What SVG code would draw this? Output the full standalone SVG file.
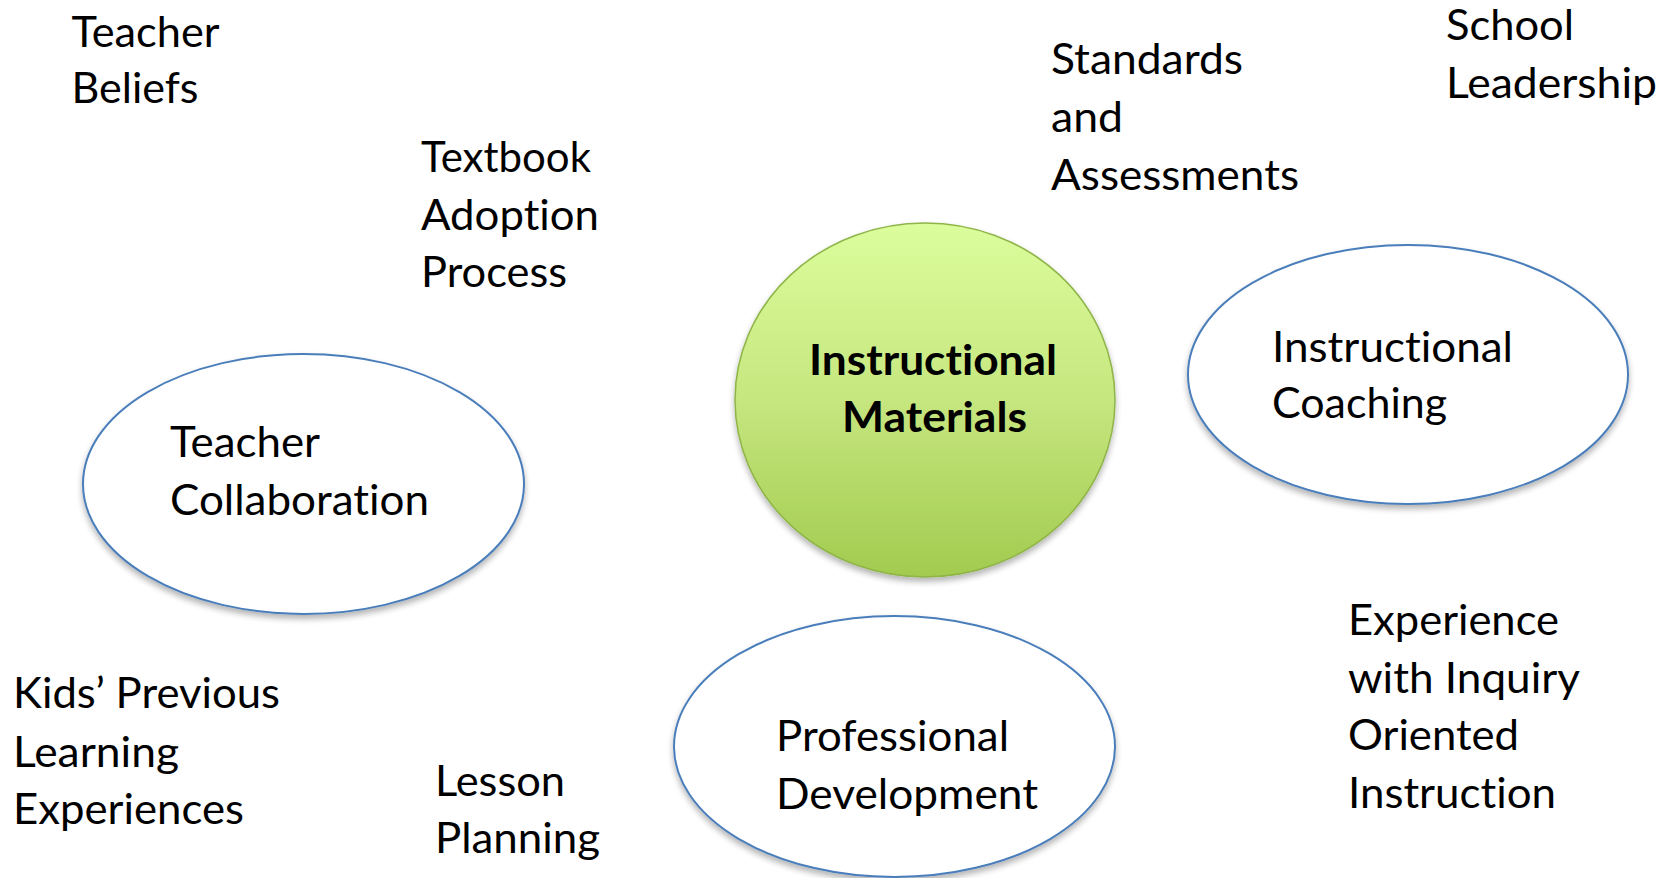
<svg xmlns="http://www.w3.org/2000/svg" width="1673" height="878" viewBox="0 0 1673 878">
<style>
text{font-family:Lato,"Open Sans","Liberation Sans",sans-serif;font-size:42px;fill:#000;font-variant-ligatures:none;font-feature-settings:"liga" 0,"clig" 0}
.b{font-weight:bold}
.ell{fill:#fff;stroke:#4a7ebb;stroke-width:2}
</style>
<defs>
<linearGradient id="g" x1="0" y1="0" x2="0" y2="1">
<stop offset="0" stop-color="#dcfd9c"/>
<stop offset="0.5" stop-color="#c6e67f"/>
<stop offset="1" stop-color="#a2cb4f"/>
</linearGradient>
<filter id="sh" x="-10%" y="-10%" width="120%" height="125%">
<feGaussianBlur in="SourceAlpha" stdDeviation="3"/>
<feOffset dy="4" result="o"/>
<feComponentTransfer><feFuncA type="linear" slope="0.3"/></feComponentTransfer>
<feMerge><feMergeNode/><feMergeNode in="SourceGraphic"/></feMerge>
</filter>
</defs>
<rect width="1673" height="878" fill="#fff"/>
<g id="connectors"/>
<g id="instructional-materials">
<ellipse cx="925" cy="400" rx="190" ry="177" fill="url(#g)" stroke="#8fb54a" stroke-width="1.5" filter="url(#sh)"/>
<text class="b" x="809" y="375" textLength="248" lengthAdjust="spacingAndGlyphs">Instructional</text>
<text class="b" x="842" y="432" textLength="185" lengthAdjust="spacingAndGlyphs">Materials</text>
</g>
<g id="teacher-collaboration">
<ellipse class="ell" cx="303.5" cy="484" rx="220.5" ry="130" filter="url(#sh)"/>
<text x="170" y="457" textLength="150" lengthAdjust="spacingAndGlyphs">Teacher</text>
<text x="170" y="515" textLength="259" lengthAdjust="spacingAndGlyphs">Collaboration</text>
</g>
<g id="instructional-coaching">
<ellipse class="ell" cx="1408" cy="374.5" rx="220" ry="129.5" filter="url(#sh)"/>
<text x="1272" y="362" textLength="241" lengthAdjust="spacingAndGlyphs">Instructional</text>
<text x="1272" y="418" textLength="175" lengthAdjust="spacingAndGlyphs">Coaching</text>
</g>
<g id="professional-development">
<ellipse class="ell" cx="894.5" cy="746.5" rx="220.5" ry="130.5" filter="url(#sh)"/>
<text x="776" y="751" textLength="233" lengthAdjust="spacingAndGlyphs">Professional</text>
<text x="776" y="809" textLength="262" lengthAdjust="spacingAndGlyphs">Development</text>
</g>
<g id="teacher-beliefs">
<text x="71.5" y="47" textLength="148" lengthAdjust="spacingAndGlyphs">Teacher</text>
<text x="71.5" y="103" textLength="127" lengthAdjust="spacingAndGlyphs">Beliefs</text>
</g>
<g id="textbook-adoption">
<text x="421" y="172" textLength="170" lengthAdjust="spacingAndGlyphs">Textbook</text>
<text x="421" y="230" textLength="178" lengthAdjust="spacingAndGlyphs">Adoption</text>
<text x="421" y="287" textLength="146" lengthAdjust="spacingAndGlyphs">Process</text>
</g>
<g id="standards-assessments">
<text x="1051" y="74" textLength="192" lengthAdjust="spacingAndGlyphs">Standards</text>
<text x="1051" y="132" textLength="72" lengthAdjust="spacingAndGlyphs">and</text>
<text x="1051" y="190" textLength="248" lengthAdjust="spacingAndGlyphs">Assessments</text>
</g>
<g id="school-leadership">
<text x="1446" y="40" textLength="128" lengthAdjust="spacingAndGlyphs">School</text>
<text x="1446" y="98" textLength="211" lengthAdjust="spacingAndGlyphs">Leadership</text>
</g>
<g id="kids-previous">
<text x="13" y="708" textLength="267" lengthAdjust="spacingAndGlyphs">Kids’ Previous</text>
<text x="13" y="767" textLength="166" lengthAdjust="spacingAndGlyphs">Learning</text>
<text x="13" y="824" textLength="231" lengthAdjust="spacingAndGlyphs">Experiences</text>
</g>
<g id="lesson-planning">
<text x="435" y="796" textLength="130" lengthAdjust="spacingAndGlyphs">Lesson</text>
<text x="435" y="853" textLength="165" lengthAdjust="spacingAndGlyphs">Planning</text>
</g>
<g id="experience-inquiry">
<text x="1348" y="635" textLength="211" lengthAdjust="spacingAndGlyphs">Experience</text>
<text x="1348" y="693" textLength="232" lengthAdjust="spacingAndGlyphs">with Inquiry</text>
<text x="1348" y="750" textLength="171" lengthAdjust="spacingAndGlyphs">Oriented</text>
<text x="1348" y="808" textLength="208" lengthAdjust="spacingAndGlyphs">Instruction</text>
</g>
</svg>
